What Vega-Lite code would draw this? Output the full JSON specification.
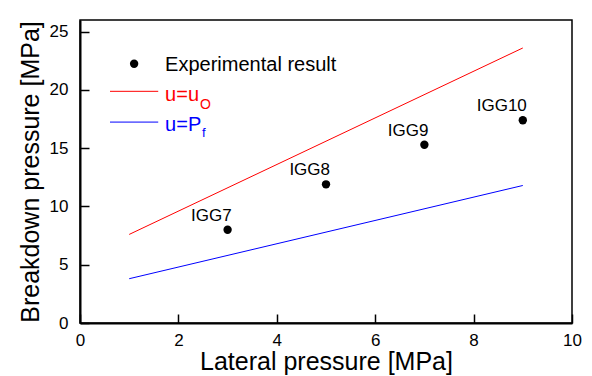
{
  "$schema": "https://vega.github.io/schema/vega-lite/v6.json",
  "width": 492,
  "height": 303,
  "autosize": "none",
  "padding": {"left": 80, "top": 20, "right": 20, "bottom": 53},
  "background": "white",
  "config": {
    "font": "Liberation Sans",
    "view": {"stroke": "black", "strokeWidth": 1.5},
    "axis": {
      "grid": false,
      "domainColor": "black",
      "domainWidth": 2,
      "tickColor": "black",
      "tickWidth": 1.5,
      "tickSize": -9,
      "labelColor": "black",
      "titleColor": "black",
      "labelFont": "Liberation Sans",
      "titleFont": "Liberation Sans",
      "labelFontSize": 17,
      "titleFontSize": 25,
      "titleFontWeight": "normal"
    }
  },
  "datasets": {
    "exp": [
      {"lateral": 3, "breakdown": 8.0, "label": "IGG7"},
      {"lateral": 5, "breakdown": 11.9, "label": "IGG8"},
      {"lateral": 7, "breakdown": 15.3, "label": "IGG9"},
      {"lateral": 9, "breakdown": 17.4, "label": "IGG10"}
    ],
    "lines": [
      {"series": "u=uO", "lateral": 1, "breakdown": 7.6},
      {"series": "u=uO", "lateral": 9, "breakdown": 23.6},
      {"series": "u=Pf", "lateral": 1, "breakdown": 3.8},
      {"series": "u=Pf", "lateral": 9, "breakdown": 11.8}
    ],
    "one": [{}]
  },
  "layer": [
    {
      "data": {"name": "lines"},
      "mark": {"type": "line", "strokeWidth": 1},
      "encoding": {
        "x": {"field": "lateral", "type": "quantitative", "scale": {"domain": [0, 10]},
              "axis": {"title": "Lateral pressure [MPa]", "values": [0, 2, 4, 6, 8, 10], "labelPadding": 18, "titlePadding": 1, "labelFlush": false}},
        "y": {"field": "breakdown", "type": "quantitative", "scale": {"domain": [0, 25]},
              "axis": {"title": "Breakdown pressure [MPa]", "values": [0, 5, 10, 15, 20, 25], "labelPadding": 21, "titlePadding": 6, "labelFlush": false}},
        "color": {"field": "series", "type": "nominal", "scale": {"domain": ["u=uO", "u=Pf"], "range": ["#ff0000", "#0000ff"]}, "legend": null}
      }
    },
    {
      "data": {"name": "exp"},
      "mark": {"type": "point", "filled": true, "color": "black", "size": 70, "opacity": 1},
      "encoding": {
        "x": {"field": "lateral", "type": "quantitative"},
        "y": {"field": "breakdown", "type": "quantitative"}
      }
    },
    {
      "data": {"name": "exp"},
      "mark": {"type": "text", "align": "right", "baseline": "alphabetic", "dx": 4, "dy": -9, "fontSize": 17, "color": "black"},
      "encoding": {
        "x": {"field": "lateral", "type": "quantitative"},
        "y": {"field": "breakdown", "type": "quantitative"},
        "text": {"field": "label"}
      }
    },
    {
      "data": {"name": "one"},
      "mark": {"type": "point", "filled": true, "color": "black", "size": 70, "opacity": 1},
      "encoding": {"x": {"datum": 1.10}, "y": {"datum": 22.25}}
    },
    {
      "data": {"name": "one"},
      "mark": {"type": "text", "text": "Experimental result", "align": "left", "baseline": "alphabetic", "fontSize": 20, "color": "black"},
      "encoding": {"x": {"datum": 1.73}, "y": {"datum": 21.62}}
    },
    {
      "data": {"name": "one"},
      "mark": {"type": "rule", "color": "#ff0000", "strokeWidth": 1},
      "encoding": {"x": {"datum": 0.61}, "x2": {"datum": 1.59}, "y": {"datum": 19.88}}
    },
    {
      "data": {"name": "one"},
      "mark": {"type": "text", "text": "u=u", "align": "left", "baseline": "alphabetic", "fontSize": 20, "color": "#ff0000"},
      "encoding": {"x": {"datum": 1.73}, "y": {"datum": 19.08}}
    },
    {
      "data": {"name": "one"},
      "mark": {"type": "text", "text": "O", "align": "left", "baseline": "alphabetic", "fontSize": 14, "color": "#ff0000"},
      "encoding": {"x": {"datum": 2.44}, "y": {"datum": 18.4}}
    },
    {
      "data": {"name": "one"},
      "mark": {"type": "rule", "color": "#0000ff", "strokeWidth": 1},
      "encoding": {"x": {"datum": 0.61}, "x2": {"datum": 1.59}, "y": {"datum": 17.24}}
    },
    {
      "data": {"name": "one"},
      "mark": {"type": "text", "text": "u=P", "align": "left", "baseline": "alphabetic", "fontSize": 20, "color": "#0000ff"},
      "encoding": {"x": {"datum": 1.73}, "y": {"datum": 16.48}}
    },
    {
      "data": {"name": "one"},
      "mark": {"type": "text", "text": "f", "align": "left", "baseline": "alphabetic", "fontSize": 13, "color": "#0000ff"},
      "encoding": {"x": {"datum": 2.48}, "y": {"datum": 16.0}}
    }
  ]
}
